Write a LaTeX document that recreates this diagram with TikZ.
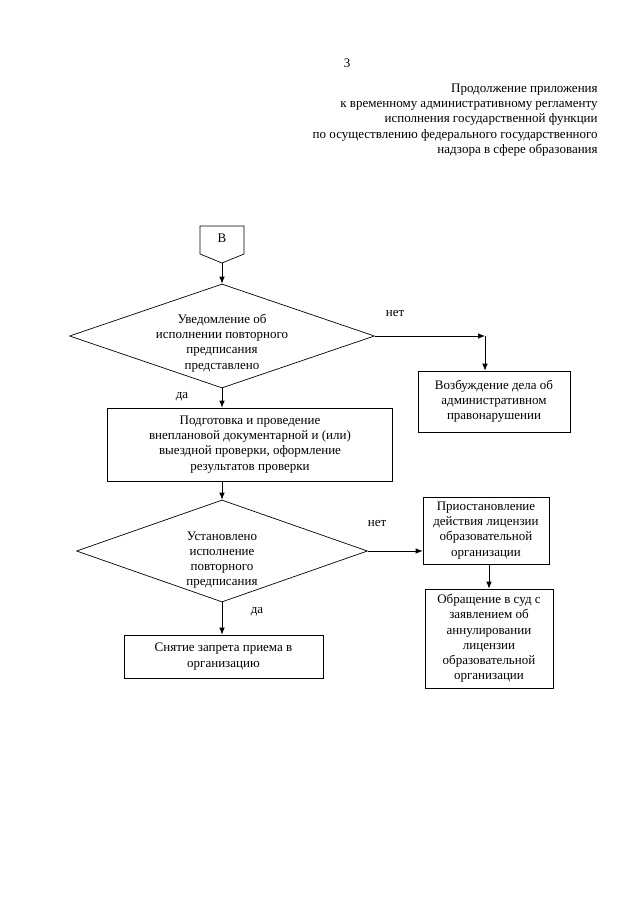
\documentclass[tikz,border=0pt]{standalone}
\usepackage{fontspec}
\setmainfont{Liberation Serif}
\usetikzlibrary{positioning,shapes.geometric,arrows.meta}

\begin{document}
\begin{tikzpicture}[x=1pt,y=-1pt,
    font=\fontsize{13}{15.2}\selectfont,
    line width=.7pt,
    box/.style={draw,rectangle,align=center,inner sep=0pt},
    decision/.style={draw,diamond,inner sep=0pt},
    dtext/.style={align=center,inner sep=0pt},
    arr/.style={-{Latex[length=7pt,width=5.5pt]}}]
    \useasboundingbox (0,0) rectangle (640,905);
    % page number and heading
    \node (pagenum) at (347,63) {3};
    \node[anchor=east,align=right,inner sep=0pt] (head) at (598,120)
        {Продолжение приложения\\к временному административному регламенту\\исполнения государственной функции\\по осуществлению федерального государственного\\надзора в сфере образования};
    % off-page connector
    \draw (200,226) -- (244,226) -- (244,254) -- (222,263) -- (200,254) -- cycle;
    \node (conn) at (222,238) {В};
    \coordinate (connend) at (222,263);
    % first decision
    \node[decision,minimum width=305pt,minimum height=104pt] (q1) at (222,336) {};
    \node[dtext] (q1t) at (222,343) {Уведомление об\\исполнении повторного\\предписания\\представлено};
    \node[box,minimum width=152pt,minimum height=61pt] (viol) at (494,401.5) {Возбуждение дела об\\административном\\правонарушении};
    \coordinate (corner) at (485,336);
    \node (no1) at (395,313) {нет};
    \node (yes1) at (182,397) {да};
    % check box
    \node[box,minimum width=285pt,minimum height=73pt] (prep) at (250,444.5) {Подготовка и проведение\\внеплановой документарной и (или)\\выездной проверки, оформление\\результатов проверки};
    % second decision
    \node[decision,minimum width=291pt,minimum height=102pt] (q2) at (222,551) {};
    \node[dtext] (q2t) at (222,560) {Установлено\\исполнение\\повторного\\предписания};
    \node (no2) at (377,523) {нет};
    \node (yes2) at (257,612) {да};
    \node[box,minimum width=126pt,minimum height=67pt] (susp) at (486,530.5) {Приостановление\\действия лицензии\\образовательной\\организации};
    \node[box,minimum width=128pt,minimum height=99pt] (court) at (489,638.5) {Обращение в суд с\\заявлением об\\аннулировании\\лицензии\\образовательной\\организации};
    \node[box,minimum width=199pt,minimum height=43pt] (lift) at (223.5,656.5) {Снятие запрета приема в\\организацию};
    % connectors
    \draw[arr] (connend) -- (q1.north);
    \draw[arr] (q1.east) -- (corner);
    \draw[arr] (corner) -- (corner |- viol.north);
    \draw[arr] (q1.south) -- (q1.south |- prep.north);
    \draw[arr] (q1.south |- prep.south) -- (q2.north);
    \draw[arr] (q2.east) -- (q2.east -| susp.west);
    \draw[arr] (susp.south -| court.north) -- (court.north);
    \draw[arr] (q2.south) -- (q2.south |- lift.north);
\end{tikzpicture}
\end{document}
